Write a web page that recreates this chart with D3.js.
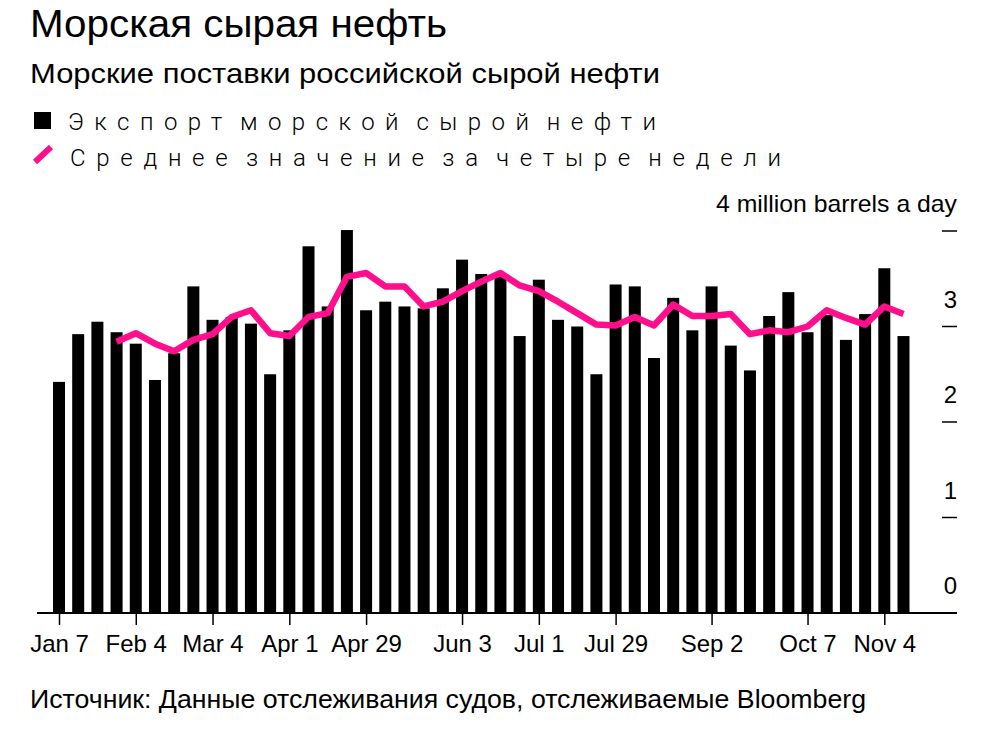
<!DOCTYPE html>
<html>
  <head>
    <meta charset="utf-8" />
    <script src="https://d3js.org/d3.v7.min.js"></script>
    <style>
      html,
      body {
        margin: 0;
        background: #fff;
      }
      text {
        font-family: "Liberation Sans", Arial, Helvetica, sans-serif;
        fill: #000;
      }
      text.legend {
        font-family: Roboto, "Liberation Sans", sans-serif;
        font-weight: 300;
        word-spacing: -9px;
      }
    </style>
  </head>
  <body>
    <div id="chart"></div>
    <script>
      // weekly seaborne crude exports, million barrels a day (weeks from Jan 7)
      const exportsWeekly = [
        2.42, 2.92, 3.05, 2.94, 2.82, 2.44, 2.72, 3.42, 3.07, 3.1, 3.03, 2.5,
        2.96, 3.84, 3.21, 4.01, 3.17, 3.26, 3.21, 3.19, 3.4, 3.7, 3.55, 3.55,
        2.9, 3.49, 3.07, 3.0, 2.5, 3.44, 3.42, 2.67, 3.3, 2.96, 3.42, 2.8,
        2.54, 3.11, 3.36, 2.94, 3.12, 2.86, 3.13, 3.61, 2.9,
      ];
      // four-week average, starts with the 4th week
      const avgFourWeek = [
        2.84, 2.93, 2.82, 2.74, 2.86, 2.92, 3.1, 3.17, 2.93, 2.9, 3.1, 3.14,
        3.52, 3.56, 3.42, 3.42, 3.21, 3.26, 3.37, 3.47, 3.56, 3.43, 3.37, 3.26,
        3.14, 3.02, 3.01, 3.1, 3.01, 3.23, 3.11, 3.11, 3.13, 2.92, 2.96, 2.94,
        3.0, 3.17, 3.09, 3.02, 3.21, 3.13,
      ];
      const xTickLabels = [
        "Jan 7", "Feb 4", "Mar 4", "Apr 1", "Apr 29", "Jun 3",
        "Jul 1", "Jul 29", "Sep 2", "Oct 7", "Nov 4",
      ];
      const yTicks = [0, 1, 2, 3, 4];

      const width = 997;
      const height = 745;
      const pink = "#ff0f8c";

      const parseLabel = d3.timeParse("%b %-d %Y");
      const weeks = d3.timeMonday.range(
        new Date(2019, 0, 7),
        new Date(2019, 10, 12)
      );
      const tickDates = xTickLabels.map((s) => parseLabel(s + " 2019"));

      const svg = d3
        .select("#chart")
        .append("svg")
        .attr("width", width)
        .attr("height", height);

      const x = d3
        .scaleTime()
        .domain([weeks[0], weeks[weeks.length - 1]])
        .range([59, 903.5]);
      const y = d3.scaleLinear().domain([0, 4]).range([613, 231]);
      const barW = 12;

      // titles
      svg
        .append("text")
        .attr("x", 30)
        .attr("y", 37)
        .attr("font-size", 38)
        .attr("textLength", 417)
        .attr("lengthAdjust", "spacingAndGlyphs")
        .text("Морская сырая нефть");
      svg
        .append("text")
        .attr("x", 30)
        .attr("y", 83)
        .attr("font-size", 28)
        .attr("textLength", 630)
        .attr("lengthAdjust", "spacingAndGlyphs")
        .text("Морские поставки российской сырой нефти");

      // legend
      svg
        .append("rect")
        .attr("x", 34)
        .attr("y", 112)
        .attr("width", 17)
        .attr("height", 17)
        .attr("fill", "#000");
      svg
        .append("text")
        .attr("class", "legend")
        .attr("x", 68)
        .attr("y", 130)
        .attr("font-size", 24)
        .attr("textLength", 588)
        .attr("lengthAdjust", "spacing")
        .text("Экспорт морской сырой нефти");
      svg
        .append("line")
        .attr("x1", 35)
        .attr("y1", 162)
        .attr("x2", 51)
        .attr("y2", 147)
        .attr("stroke", pink)
        .attr("stroke-width", 6);
      svg
        .append("text")
        .attr("class", "legend")
        .attr("x", 70)
        .attr("y", 166)
        .attr("font-size", 24)
        .attr("textLength", 711)
        .attr("lengthAdjust", "spacing")
        .text("Среднее значение за четыре недели");

      // bars
      svg
        .append("g")
        .selectAll("rect")
        .data(exportsWeekly)
        .join("rect")
        .attr("x", (d, i) => x(weeks[i]) - barW / 2)
        .attr("y", (d) => y(d))
        .attr("width", barW)
        .attr("height", (d) => y(0) - y(d))
        .attr("fill", "#000");

      // four week average
      const line = d3
        .line()
        .x((d, i) => x(weeks[i + 3]))
        .y((d) => y(d));
      svg
        .append("path")
        .datum(avgFourWeek)
        .attr("d", line)
        .attr("fill", "none")
        .attr("stroke", pink)
        .attr("stroke-width", 6.5)
        .attr("stroke-linejoin", "round");

      // x axis
      svg
        .append("line")
        .attr("x1", 37)
        .attr("x2", 957)
        .attr("y1", y(0))
        .attr("y2", y(0))
        .attr("stroke", "#000")
        .attr("stroke-width", 2);
      const xAxis = svg
        .append("g")
        .attr("transform", `translate(0,${y(0)})`)
        .call(
          d3
            .axisBottom(x)
            .tickValues(tickDates)
            .tickFormat((d, i) => xTickLabels[i])
            .tickSize(12)
            .tickPadding(10)
        );
      xAxis.select(".domain").remove();
      xAxis.selectAll(".tick line").attr("stroke", "#000").attr("stroke-width", 1.5);
      xAxis
        .selectAll(".tick text")
        .attr("font-size", 24)
        .attr("font-family", null)
        .attr("fill", "#000");

      // y axis on the right
      const yAxis = svg.append("g");
      yAxis
        .selectAll("line")
        .data(yTicks.filter((d) => d > 0))
        .join("line")
        .attr("x1", 942)
        .attr("x2", 957)
        .attr("y1", (d) => y(d))
        .attr("y2", (d) => y(d))
        .attr("stroke", "#000")
        .attr("stroke-width", 1.5);
      yAxis
        .selectAll("text")
        .data(yTicks.filter((d) => d < 4))
        .join("text")
        .attr("x", 957)
        .attr("y", (d) => y(d) - 19)
        .attr("text-anchor", "end")
        .attr("font-size", 24)
        .text((d) => d);
      svg
        .append("text")
        .attr("x", 957)
        .attr("y", 212)
        .attr("text-anchor", "end")
        .attr("font-size", 24)
        .attr("textLength", 241)
        .attr("lengthAdjust", "spacingAndGlyphs")
        .text("4 million barrels a day");

      // source
      svg
        .append("text")
        .attr("x", 30)
        .attr("y", 708)
        .attr("font-size", 25)
        .attr("textLength", 836)
        .attr("lengthAdjust", "spacingAndGlyphs")
        .text("Источник: Данные отслеживания судов, отслеживаемые Bloomberg");
    </script>
  </body>
</html>
